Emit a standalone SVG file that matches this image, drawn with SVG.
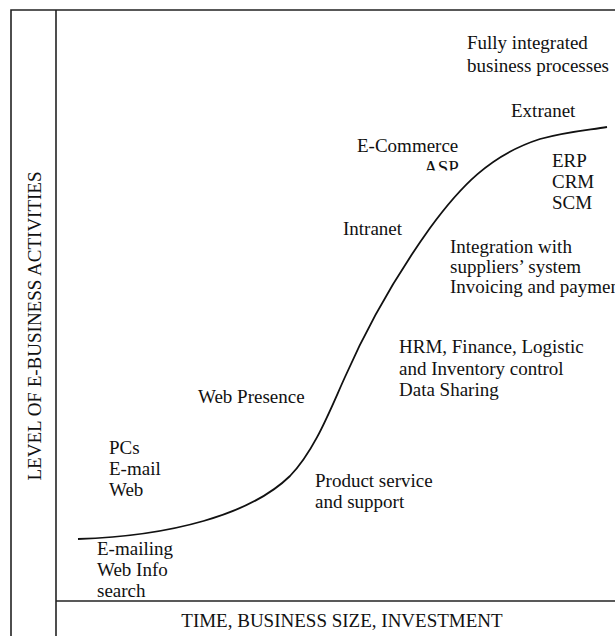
<svg xmlns="http://www.w3.org/2000/svg" width="615" height="636" viewBox="0 0 615 636">
<defs>
<style>
.t{font-family:"Liberation Serif","Times New Roman",serif;font-size:19px;fill:#111}
.frame{fill:none;stroke:#222;stroke-width:1.6}
.curve{fill:none;stroke:#111;stroke-width:1.8}
</style>
<clipPath id="aspClip"><rect x="400" y="150" width="80" height="20.5"/></clipPath>
</defs>
<rect width="615" height="636" fill="#fff"/>
<g id="frame">
<path class="frame" d="M11,640 V10 H620"/>
<path class="frame" d="M56,10 V640"/>
<path class="frame" d="M56,601 H620"/>
</g>
<g id="axes">
<text id="x-axis" class="t" x="342" y="627" text-anchor="middle">TIME, BUSINESS SIZE, INVESTMENT</text>
<text id="y-axis" class="t" transform="translate(41,326) rotate(-90)" text-anchor="middle">LEVEL OF E-BUSINESS ACTIVITIES</text>
</g>
<g id="connectors">
<path class="curve" d="M78,539 C170,536 250,515 290,476 C315,450 330,410 345,377 C370,320 400,270 430,228 C460,187 490,155 540,139 C570,131 590,130 607,127"/>
</g>
<g id="fully"><text class="t" x="467" y="49">Fully integrated</text><text class="t" x="467" y="72">business processes</text></g>
<g id="extranet"><text class="t" x="511" y="117">Extranet</text></g>
<g id="ecommerce"><text class="t" x="357" y="152">E-Commerce</text><text class="t" x="424" y="174" clip-path="url(#aspClip)">ASP</text></g>
<g id="erp"><text class="t" x="552" y="167">ERP</text><text class="t" x="552" y="188">CRM</text><text class="t" x="552" y="209">SCM</text></g>
<g id="intranet"><text class="t" x="343" y="235">Intranet</text></g>
<g id="integration"><text class="t" x="450" y="253">Integration with</text><text class="t" x="450" y="273">suppliers’ system</text><text class="t" x="450" y="293">Invoicing and payment</text></g>
<g id="hrm"><text class="t" x="399" y="353">HRM, Finance, Logistic</text><text class="t" x="399" y="375">and Inventory control</text><text class="t" x="399" y="396">Data Sharing</text></g>
<g id="webpresence"><text class="t" x="198" y="403">Web Presence</text></g>
<g id="pcs"><text class="t" x="109" y="454">PCs</text><text class="t" x="109" y="475">E-mail</text><text class="t" x="109" y="496">Web</text></g>
<g id="product"><text class="t" x="315" y="487">Product service</text><text class="t" x="315" y="508">and support</text></g>
<g id="emailing"><text class="t" x="97" y="555">E-mailing</text><text class="t" x="97" y="576">Web Info</text><text class="t" x="97" y="597">search</text></g>
</svg>
